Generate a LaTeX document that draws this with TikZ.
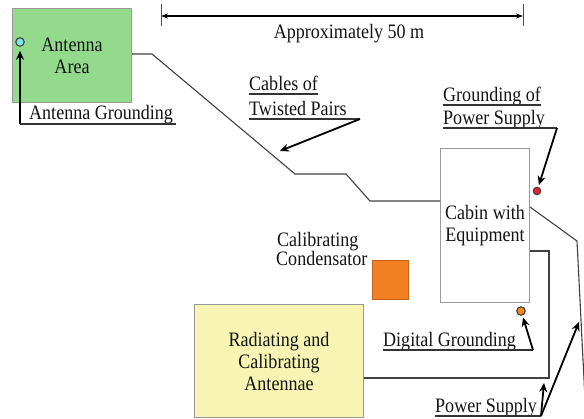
\documentclass[tikz,border=0pt]{standalone}
\usepackage{fontspec}
\setmainfont{Liberation Serif}[FakeStretch=0.88]
\usetikzlibrary{arrows.meta,calc}
\definecolor{antgreen}{RGB}{148,218,140}
\definecolor{radyellow}{RGB}{248,245,180}
\definecolor{condorange}{RGB}{240,128,34}
\definecolor{dotcyan}{RGB}{128,228,238}
\definecolor{dotred}{RGB}{232,32,40}
\definecolor{dotorange}{RGB}{240,138,30}
\begin{document}
\begin{tikzpicture}[x=1pt,y=-1pt,
  txt/.style={font=\fontsize{20.5}{22}\selectfont, inner sep=0pt, text=black!92},
  wire/.style={draw=black!75, line width=1.1pt},
  arr/.style={draw=black, line width=1.8pt, -{Stealth[length=9pt,width=8pt]}},
  uline/.style={draw=black!80, line width=1.1pt},
  box/.style={draw=black!40, line width=1pt, inner sep=0pt},
  dotnode/.style={circle, draw=black!75, line width=1.1pt, inner sep=0pt, minimum size=8.5pt}]
\useasboundingbox (0,0) rectangle (584,419);

% boxes
\node[box, txt, fill=antgreen, minimum width=119pt, minimum height=94pt, anchor=north west, align=center] (ant) at (12,8) {Antenna\\Area};
\node[box, txt, fill=white, minimum width=89pt, minimum height=154pt, anchor=north west, align=center] (cabin) at (440,148) {Cabin with\\Equipment};
\node[box, txt, fill=radyellow, minimum width=169pt, minimum height=113pt, anchor=north west, align=center] (rad) at (194,304) {Radiating and\\Calibrating\\Antennae};
\node[draw=condorange!80!black, line width=0.8pt, fill=condorange, minimum width=36pt, minimum height=39pt, inner sep=0pt, anchor=north west] (cond) at (372,260) {};

% dots
\node[dotnode, fill=dotcyan] (agdot) at (20,42) {};
\node[dotnode, fill=dotred, minimum size=7.5pt] (psdot) at (537,191) {};
\node[dotnode, fill=dotorange] (dgdot) at (521,311) {};

% scale bar
\coordinate (sL) at (161,16);
\coordinate (sR) at (523,16);
\draw[line width=0.8pt, draw=black!70] (161,4) -- (161,26) (523,4) -- (523,26);
\draw[line width=1.3pt, {Stealth[length=7pt,width=5pt]}-{Stealth[length=7pt,width=5pt]}] (sL) -- (sR);
\node[txt, anchor=base] (dist) at (349,39) {Approximately 50 m};

% cables
\coordinate (c1) at (152,54);
\coordinate (c2) at (295,174);
\coordinate (c3) at (346,174);
\coordinate (c4) at (370,201);
\draw[wire] (ant.east |- c1) -- (c1) -- (c2) -- (c3) -- (c4) -- (cabin.west |- c4);
\coordinate (r0) at (529,207);
\coordinate (r1) at (577,241);
\coordinate (r2) at (586,419);
\draw[wire] (cabin.east |- r0) -- (r1) -- (r2);
\coordinate (b1) at (549,251);
\coordinate (b2) at (549,378);
\draw[wire] (cabin.east |- b1) -- (b1) -- (b2) -- (rad.east |- b2);

% Antenna grounding
\node[txt, anchor=base west] (aglab) at (29,120) {Antenna Grounding};
\coordinate (agk) at (20,124);
\draw[uline] (agk) -- ($(aglab.base east)+(3,4)$);
\draw[arr, shorten >=4pt] (agk) -- (agdot.south);

% Cables of twisted pairs
\node[txt, anchor=base west] (ctp1) at (249,91) {Cables of};
\node[txt, anchor=base west] (ctp2) at (249,116) {Twisted Pairs};
\draw[uline] ($(ctp1.base west)+(0,3)$) -- ($(ctp1.base east)+(0,3)$);
\coordinate (ctpk) at (360,119);
\draw[uline] ($(ctp2.base west)+(0,3)$) -- (ctpk);
\coordinate (ctpt) at (280,151);
\draw[arr] (ctpk) -- (ctpt);

% Grounding of power supply
\node[txt, anchor=base west] (gps1) at (443,102) {Grounding of};
\node[txt, anchor=base west] (gps2) at (443,125) {Power Supply};
\draw[uline] ($(gps1.base west)+(0,3)$) -- ($(gps1.base east)+(0,3)$);
\coordinate (gpk) at (557,128);
\draw[uline] ($(gps2.base west)+(0,3)$) -- (gpk);
\draw[arr, shorten >=2pt] (gpk) -- (psdot);

% Calibrating condensator
\node[txt, anchor=base west] (cc1) at (277,247) {Calibrating};
\node[txt, anchor=base west] (cc2) at (276,266) {Condensator};

% Digital grounding
\node[txt, anchor=base west] (dglab) at (383,347) {Digital Grounding};
\coordinate (dgk) at (533,350);
\draw[uline] ($(dglab.base west)+(0,3)$) -- (dgk);
\draw[arr, shorten >=2pt] (dgk) -- (dgdot);

% Power supply
\node[txt, anchor=base west] (pslab) at (435,413) {Power Supply};
\coordinate (psk) at (541,416);
\draw[uline] ($(pslab.base west)+(0,3)$) -- (psk);
\coordinate (psa) at (579,322);
\coordinate (psb) at (544,383);
\draw[arr] (psk) -- (psa);
\draw[arr] (psk) -- (psb);
\end{tikzpicture}
\end{document}
